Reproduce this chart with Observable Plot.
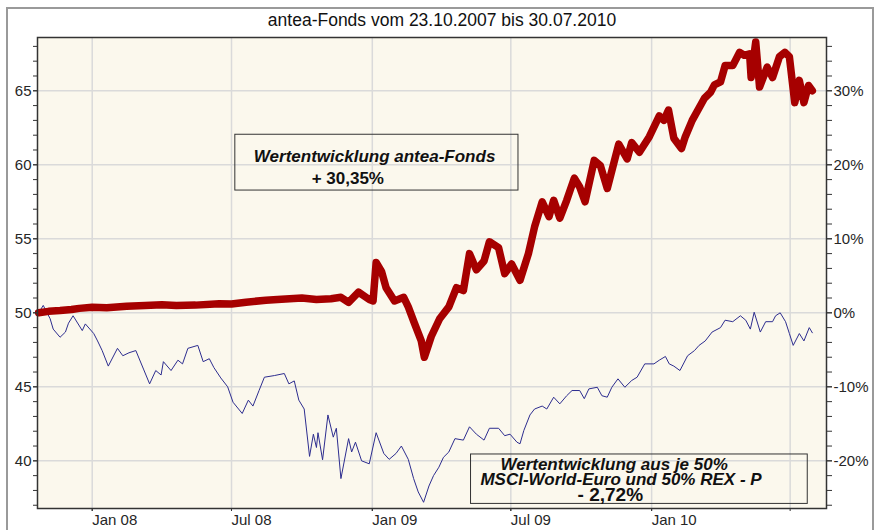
<!DOCTYPE html>
<html>
<head>
<meta charset="utf-8">
<script src="https://cdn.jsdelivr.net/npm/d3@7"></script>
<script src="https://cdn.jsdelivr.net/npm/@observablehq/plot@0.6"></script>
<style>
  body { margin: 0; background: #fff; }
  #wrap { position: relative; width: 879px; height: 530px; overflow: hidden; background: #fff; }
  #border { position: absolute; left: 6px; top: 7px; width: 864px; height: 600px; border: 2px solid #9a9a9a; }
  #chart { position: absolute; left: 0; top: 0; }
</style>
</head>
<body>
<div id="wrap"><div id="border"></div><div id="chart"></div></div>
<script>
const titleText = "antea-Fonds vom 23.10.2007 bis 30.07.2010";

const anteaFonds = [
["2007-10-23",50.0],["2007-11-05",50.1],["2007-11-20",50.15],["2007-12-05",50.22],["2007-12-15",50.3],["2008-01-01",50.38],
["2008-01-20",50.35],["2008-02-15",50.45],["2008-03-10",50.5],["2008-04-01",50.55],["2008-04-20",50.5],["2008-05-15",50.52],["2008-06-15",50.62],
["2008-07-01",50.6],["2008-07-20",50.72],["2008-08-15",50.85],["2008-08-30",50.9],["2008-09-15",50.95],["2008-10-01",51.0],
["2008-10-20",50.9],["2008-11-08",50.95],["2008-11-21",51.05],["2008-12-01",50.7],["2008-12-14",51.4],
["2008-12-28",50.9],["2009-01-02",50.8],["2009-01-06",53.4],["2009-01-13",52.8],
["2009-01-19",51.7],["2009-01-30",50.8],["2009-02-11",51.05],["2009-02-17",50.4],
["2009-02-25",49.3],["2009-03-06",48.1],["2009-03-10",47.0],["2009-03-19",48.4],
["2009-03-30",49.6],["2009-04-11",50.4],["2009-04-21",51.7],["2009-04-30",51.5],
["2009-05-08",54.0],["2009-05-17",52.9],["2009-05-27",53.5],["2009-06-03",54.8],
["2009-06-15",54.4],["2009-06-23",52.65],["2009-07-02",53.3],["2009-07-13",52.2],
["2009-07-24",54.0],["2009-08-01",55.8],["2009-08-11",57.5],["2009-08-20",56.5],
["2009-08-26",57.6],["2009-09-03",56.4],["2009-09-12",57.6],["2009-09-22",59.1],
["2009-09-29",58.5],["2009-10-06",57.5],["2009-10-18",60.3],["2009-10-26",59.95],
["2009-11-04",58.4],["2009-11-10",59.6],["2009-11-19",61.4],["2009-11-30",60.4],
["2009-12-06",61.5],["2009-12-16",60.85],["2009-12-29",61.9],["2010-01-11",63.3],
["2010-01-17",63.0],["2010-01-23",63.7],["2010-01-30",61.8],["2010-02-09",61.1],
["2010-02-14",61.9],["2010-02-23",63.0],["2010-03-11",64.5],["2010-03-19",64.9],
["2010-03-24",65.4],["2010-04-01",65.6],["2010-04-07",66.7],["2010-04-17",66.7],
["2010-04-26",67.6],["2010-05-02",67.4],["2010-05-09",67.5],["2010-05-11",65.9],
["2010-05-17",68.3],["2010-05-22",65.25],["2010-06-01",66.6],["2010-06-08",65.9],
["2010-06-17",67.3],["2010-06-24",67.6],["2010-06-30",67.3],["2010-07-07",64.2],
["2010-07-13",65.7],["2010-07-19",64.2],["2010-07-25",65.36],["2010-07-30",65.0]
];

const benchmark = [
["2007-10-23",50.0],["2007-10-29",50.5],["2007-11-07",49.6],["2007-11-11",48.9],
["2007-11-20",48.35],["2007-11-27",48.7],["2007-12-01",49.3],["2007-12-07",49.8],
["2007-12-19",48.8],["2007-12-23",49.25],["2008-01-03",48.6],["2008-01-08",48.1],
["2008-01-14",47.45],["2008-01-22",46.4],["2008-02-03",47.6],["2008-02-10",47.1],
["2008-02-18",47.3],["2008-02-27",47.45],["2008-03-08",46.2],["2008-03-16",45.2],
["2008-03-24",46.1],["2008-03-31",45.8],["2008-04-03",46.7],["2008-04-13",46.1],
["2008-04-22",46.8],["2008-04-28",46.55],["2008-05-05",47.6],["2008-05-18",47.8],
["2008-05-25",46.7],["2008-06-02",46.9],["2008-06-08",46.3],["2008-06-17",45.6],
["2008-06-26",45.0],["2008-07-03",43.96],["2008-07-15",43.2],["2008-07-23",44.1],
["2008-07-29",43.7],["2008-08-06",44.75],["2008-08-13",45.65],["2008-08-26",45.76],
["2008-09-08",45.9],["2008-09-14",45.2],["2008-09-21",45.4],["2008-09-27",44.1],
["2008-10-04",43.5],["2008-10-11",40.3],["2008-10-16",41.8],["2008-10-20",40.9],
["2008-10-22",41.9],["2008-10-28",40.07],["2008-11-04",43.1],["2008-11-11",41.6],
["2008-11-15",42.2],["2008-11-21",38.8],["2008-12-01",41.5],["2008-12-05",40.6],
["2008-12-10",41.26],["2008-12-18",40.0],["2008-12-28",39.8],["2009-01-06",41.9],
["2009-01-16",40.5],["2009-01-23",40.1],["2009-02-01",40.5],["2009-02-08",41.0],
["2009-02-17",40.1],["2009-02-24",38.8],["2009-03-02",37.9],["2009-03-09",37.2],
["2009-03-16",38.3],["2009-03-22",39.0],["2009-03-29",39.57],["2009-04-04",40.24],
["2009-04-11",40.6],["2009-04-19",41.5],["2009-04-30",41.4],["2009-05-08",42.3],
["2009-05-17",41.8],["2009-05-27",41.4],["2009-06-03",42.2],["2009-06-15",42.2],
["2009-06-23",41.7],["2009-06-30",41.8],["2009-07-09",41.26],["2009-07-13",41.15],
["2009-07-18",42.05],["2009-07-26",43.1],["2009-08-01",43.5],["2009-08-11",43.7],
["2009-08-17",43.5],["2009-08-26",44.3],["2009-09-03",43.85],["2009-09-12",44.4],
["2009-09-19",44.75],["2009-09-29",44.75],["2009-10-05",44.2],["2009-10-11",44.86],
["2009-10-22",44.97],["2009-10-28",44.4],["2009-11-04",44.3],["2009-11-10",44.97],
["2009-11-18",45.54],["2009-11-27",44.97],["2009-12-06",45.43],["2009-12-13",45.65],
["2009-12-23",46.55],["2010-01-04",46.55],["2010-01-11",46.8],["2010-01-19",47.05],
["2010-01-24",46.55],["2010-01-30",46.4],["2010-02-07",46.1],["2010-02-17",47.1],
["2010-02-26",47.45],["2010-03-04",47.8],["2010-03-12",48.1],["2010-03-21",48.7],
["2010-04-01",49.0],["2010-04-07",49.5],["2010-04-17",49.4],["2010-04-27",49.8],
["2010-05-04",49.5],["2010-05-10",48.9],["2010-05-15",50.04],["2010-05-23",48.7],
["2010-05-30",49.4],["2010-06-08",49.4],["2010-06-12",49.8],["2010-06-18",50.0],
["2010-06-25",49.4],["2010-06-30",48.6],["2010-07-05",47.8],["2010-07-13",48.6],
["2010-07-19",48.1],["2010-07-26",49.0],["2010-07-30",48.65]
];

const xTickDates = ["2008-01-01","2008-07-01","2009-01-01","2009-07-01","2010-01-01","2010-07-01"];
const xLabelDates = ["2008-01-01","2008-07-01","2009-01-01","2009-07-01","2010-01-01"];
const yMajorTicks = [40, 45, 50, 55, 60, 65];
const yMinorTicks = d3.range(37, 69, 1);
const pctMajorTicks = [-20, -10, 0, 10, 20, 30];
const pctMinorTicks = d3.range(-26, 38, 2);
const baseValue = 50;

const boxes = [
  {x1: "2008-07-06", x2: "2009-07-11", y1: 58.26, y2: 62.03},
  {x1: "2009-05-10", x2: "2010-07-24", y1: 37.09, y2: 40.43}
];
const labels = [
  {date: "2009-01-04", v: 60.18, text: "Wertentwicklung antea-Fonds", size: 17, italic: true},
  {date: "2008-11-30", v: 58.72, text: "+ 30,35%", size: 17, italic: false},
  {date: "2009-11-13", v: 39.39, text: "Wertentwicklung aus je 50%", size: 17, italic: true},
  {date: "2009-11-22", v: 38.38, text: "MSCI-World-Euro und 50% REX - P", size: 17, italic: true},
  {date: "2009-11-08", v: 37.32, text: "- 2,72%", size: 19, italic: false}
];

const D = s => new Date(s + "T00:00:00Z");
const red = anteaFonds.map(([d, v]) => ({date: D(d), v}));
const blue = benchmark.map(([d, v]) => ({date: D(d), v}));
const toVal = p => baseValue * (1 + p / 100);
const fmtX = d3.utcFormat("%b %y");
const gridColor = "#dadada";
const axisFont = 15;

const chart = Plot.plot({
  width: 879, height: 530,
  marginLeft: 37, marginRight: 53, marginTop: 37, marginBottom: 22,
  style: {fontFamily: "'Liberation Sans', Arial, sans-serif", fontSize: "15px", color: "#262626", background: "transparent", overflow: "visible"},
  x: {type: "utc", domain: [new Date("2007-10-21T12:00:00Z"), new Date("2010-08-17T12:00:00Z")]},
  y: {domain: [36.78, 68.6]},
  marks: [
    Plot.frame({fill: "#fbf8ed", stroke: null}),
    Plot.gridY(yMajorTicks, {stroke: gridColor, strokeOpacity: 1, strokeWidth: 1.5}),
    Plot.gridX(xTickDates.map(D), {stroke: gridColor, strokeOpacity: 1, strokeWidth: 1.5}),
    Plot.rect(boxes, {x1: d => D(d.x1), x2: d => D(d.x2), y1: "y1", y2: "y2", fill: "none", stroke: "#333", strokeWidth: 1}),
    Plot.line(blue, {x: "date", y: "v", stroke: "#2d2d8f", strokeWidth: 1}),
    Plot.line(red, {x: "date", y: "v", stroke: "#a60000", strokeWidth: 7.5, strokeLinecap: "round", strokeLinejoin: "round"}),
    Plot.text(labels.filter(d => d.italic), {x: d => D(d.date), y: "v", text: "text", fontSize: 17, fontWeight: "bold", fontStyle: "italic", lineAnchor: "bottom", fill: "#111"}),
    Plot.text(labels.filter(d => !d.italic), {x: d => D(d.date), y: "v", text: "text", fontSize: d => d.size, fontWeight: "bold", lineAnchor: "bottom", fill: "#111"}),
    Plot.frame({stroke: "#333", strokeWidth: 1.5}),
    Plot.axisY(yMinorTicks, {anchor: "left", tickSize: 4, tickFormat: () => "", stroke: "#333"}),
    Plot.axisY(yMajorTicks, {anchor: "left", tickSize: 4, tickPadding: 2, stroke: "#333", fontSize: axisFont}),
    Plot.axisY(pctMinorTicks.map(toVal), {anchor: "right", tickSize: 5, tickFormat: () => "", stroke: "#333"}),
    Plot.axisY(pctMajorTicks.map(toVal), {anchor: "right", tickSize: 5, tickPadding: 2, stroke: "#333", fontSize: axisFont,
      tickFormat: v => Math.round((v / baseValue - 1) * 100) + "%"}),
    Plot.axisX(xTickDates.map(D), {anchor: "bottom", tickSize: 3, tickFormat: () => "", stroke: "#333"}),
    Plot.axisX(xLabelDates.map(D), {anchor: "bottom", tickSize: 3, tickPadding: 3, textAnchor: "start", tickFormat: fmtX, stroke: "#333", fontSize: axisFont}),
    Plot.text([titleText], {frameAnchor: "top", dy: -17, dx: 10, fontSize: 17.5, lineAnchor: "middle", fill: "#111"})
  ]
});
document.getElementById("chart").appendChild(chart);
</script>
</body>
</html>
